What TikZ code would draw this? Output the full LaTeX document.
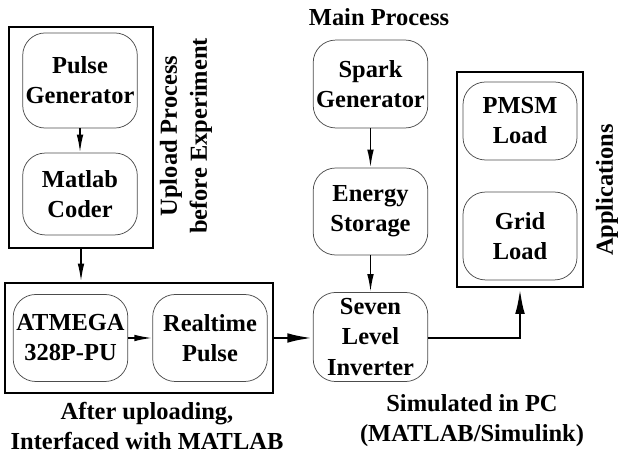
\documentclass[tikz,border=0pt]{standalone}
\usepackage{fontspec}
\setmainfont{Liberation Serif}
\usetikzlibrary{arrows.meta}

\begin{document}
\begin{tikzpicture}[
    font=\fontsize{23.2}{28.5}\selectfont\bfseries,
    block/.style={draw=black!70, line width=0.7pt, rounded corners=0.75cm, align=center, inner sep=1pt, minimum width=3.82cm},
    group/.style={draw, line width=2.6pt, inner sep=0pt},
    thinarrow/.style={-{Latex[length=0.6cm,width=0.22cm]}, line width=1.6pt},
    thickarrow/.style={-{Latex[length=0.85cm,width=0.32cm]}, line width=2.6pt}
]

    \useasboundingbox (0,0) rectangle (20.633,15.133);

    % Step 1: Upload process
    \node[group, minimum width=4.8cm, minimum height=7.367cm] (upload) at (2.7, 10.55) {};
    \node[block, minimum height=3.17cm] (pulse) at (2.667, 12.45) {Pulse\\Generator};
    \node[block, minimum height=2.73cm] (coder) at (2.667, 8.667) {Matlab\\Coder};
    \node[rotate=90, align=center] (uploadlabel) at (6.2, 10.6) {Upload Process\\before Experiment};

    % Step 2: After uploading
    \node[group, minimum width=8.933cm, minimum height=3.667cm] (after) at (4.633, 3.867) {};
    \node[block, minimum height=2.9cm] (atmega) at (2.35, 3.867) {ATMEGA\\328P-PU};
    \node[block, minimum height=2.9cm] (realtime) at (7.0, 3.867) {Realtime\\Pulse};
    \node[align=center] (afterlabel) at (4.9, 0.933) {After uploading,\\Interfaced with MATLAB};

    % Step 3: Main process
    \node (mainlabel) at (12.633, 14.567) {Main Process};
    \node[block, minimum height=2.93cm] (spark) at (12.35, 12.333) {Spark\\Generator};
    \node[block, minimum height=2.9cm] (storage) at (12.35, 8.083) {Energy\\Storage};
    \node[block, minimum height=2.97cm] (inverter) at (12.35, 3.9) {Seven\\Level\\Inverter};
    \node[align=center] (simlabel) at (15.733, 1.1) {Simulated in PC\\(MATLAB/Simulink)};

    % Step 4: Applications
    \node[group, minimum width=4.2cm, minimum height=7.167cm] (app) at (17.333, 9.15) {};
    \node[block, minimum width=3.8cm, minimum height=2.6cm] (pmsm) at (17.333, 11.1) {PMSM\\Load};
    \node[block, minimum width=3.8cm, minimum height=2.93cm] (grid) at (17.333, 7.267) {Grid\\Load};
    \node[rotate=90] (applabel) at (20.233, 8.8) {Applications};

    % Connections
    \draw[thinarrow] (pulse) -- (coder);
    \draw[thinarrow] (upload.south) -- (upload.south |- after.north);
    \draw[thinarrow] (atmega) -- (realtime);
    \draw[thickarrow] (after.east) -- (after.east -| inverter.west);
    \draw[thinarrow] (spark) -- (storage);
    \draw[thinarrow] (storage) -- (inverter);
    \draw[thickarrow] (inverter.east |- after.east) -| (app.south);

\end{tikzpicture}
\end{document}
